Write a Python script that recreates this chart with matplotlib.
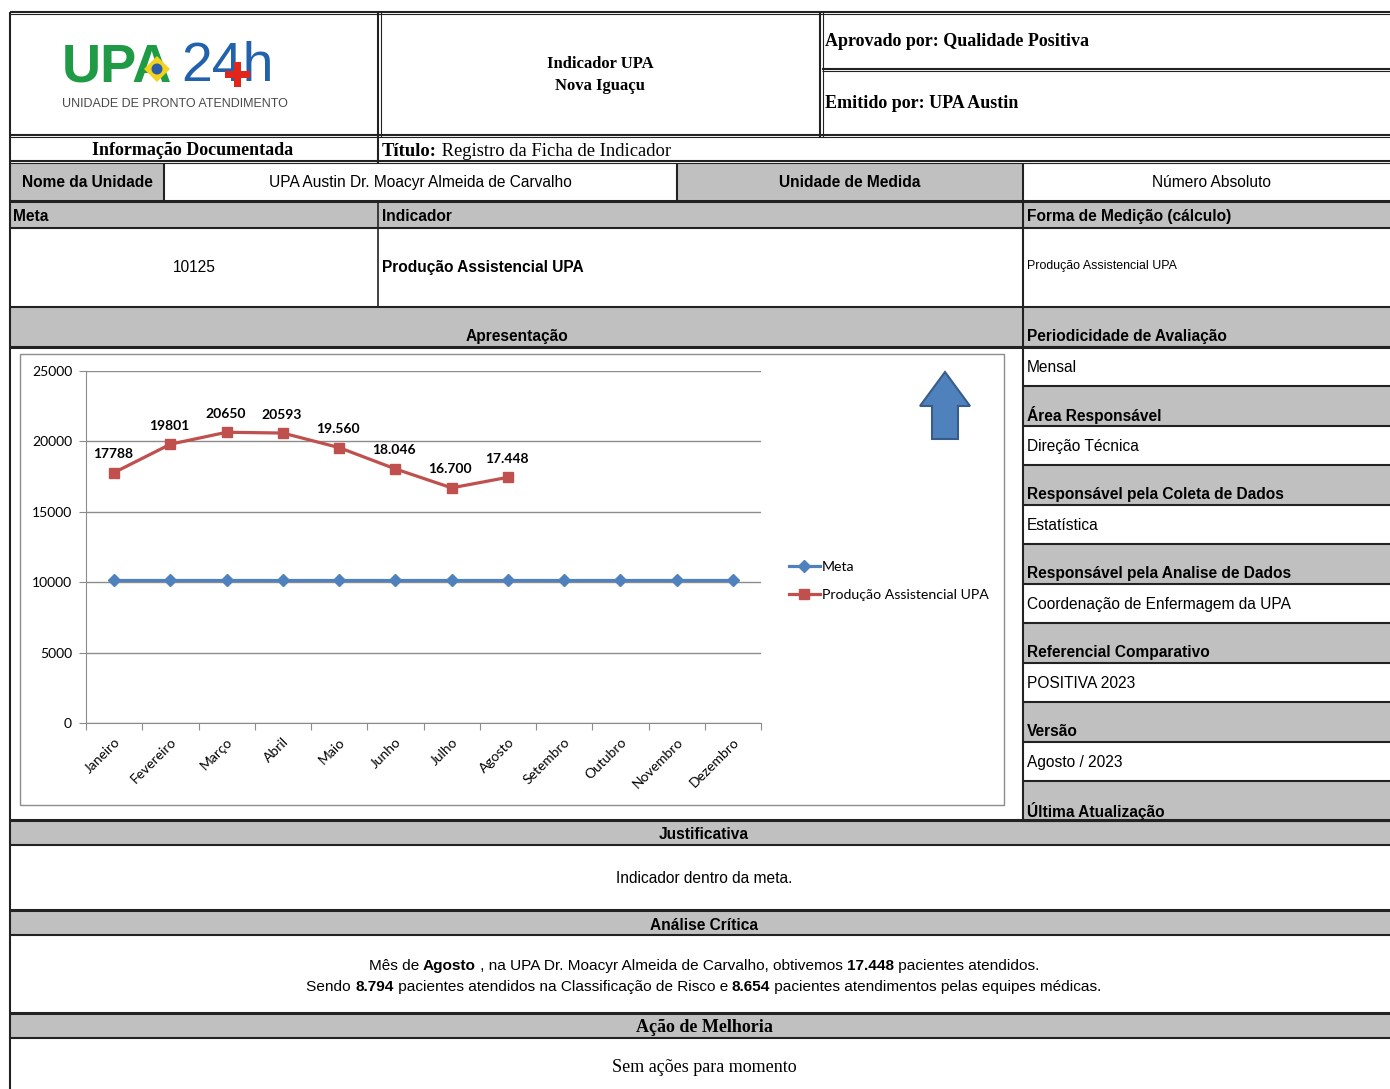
import matplotlib
matplotlib.use('Agg')
import matplotlib.pyplot as plt
from matplotlib.patches import Rectangle, Polygon, Circle

# chart data
meses = ['Janeiro', 'Fevereiro', 'Março', 'Abril', 'Maio', 'Junho',
         'Julho', 'Agosto', 'Setembro', 'Outubro', 'Novembro', 'Dezembro']
meta = [10125, 10125, 10125, 10125, 10125, 10125,
        10125, 10125, 10125, 10125, 10125, 10125]
producao = [17788, 19801, 20650, 20593, 19560, 18046, 16700, 17448]
rotulos = ['17788', '19801', '20650', '20593', '19.560', '18.046', '16.700', '17.448']
yticks = [0, 5000, 10000, 15000, 20000, 25000]

# side column of the form
campos = [('Periodicidade de Avaliação', 'Mensal'),
          ('Área Responsável', 'Direção Técnica'),
          ('Responsável pela Coleta de Dados', 'Estatística'),
          ('Responsável pela Analise de Dados', 'Coordenação de Enfermagem da UPA'),
          ('Referencial Comparativo', 'POSITIVA 2023'),
          ('Versão', 'Agosto / 2023'),
          ('Última Atualização', '')]

SERIF = 'Liberation Serif'
SANS = 'Liberation Sans'
CHART = 'Lato'
GRAY = '#c0c0c0'
BLUE = '#4f81bd'
RED = '#c0504d'
FS = 11.2

W, H = 1390, 1089
fig = plt.figure(figsize=(W/100, H/100), dpi=100)
bg = fig.add_axes([0, 0, 1, 1])
bg.set_xlim(0, W)
bg.set_ylim(H, 0)
bg.axis('off')

def box(x0, y0, x1, y1, color):
    bg.add_patch(Rectangle((x0, y0), x1-x0, y1-y0, facecolor=color, edgecolor='none', zorder=0))

def hline(y, x0=10, x1=W, lw=1.5, c='#222222'):
    bg.plot([x0, x1], [y, y], color=c, lw=lw, solid_capstyle='butt', zorder=2)

def vline(x, y0, y1, lw=1.5, c='#222222'):
    bg.plot([x, x], [y0, y1], color=c, lw=lw, solid_capstyle='butt', zorder=2)

def txt(x, y, s, size=FS, weight='normal', ha='left', family=SANS, **kw):
    return bg.text(x, y + 1.5, s, fontsize=size, fontweight=weight, ha=ha, va='center',
                   family=family, zorder=3, **kw)

renderer = fig.canvas.get_renderer()

def mixed(xc, y, parts, size, family, center=True):
    # parts: list of (text, bold); drawn on a common baseline
    base = y + 1.5 + size * 1.389 * 0.36
    objs = []
    x = 0
    for s, b in parts:
        t = bg.text(x, base, s, fontsize=size, fontweight='bold' if b else 'normal',
                    ha='left', va='baseline', family=family, zorder=3)
        w = t.get_window_extent(renderer).width
        objs.append((t, x))
        x += w
    start = xc - x/2 if center else xc
    for t, off in objs:
        t.set_x(start + off)

# ---- header ----
hline(12); hline(14, lw=0.8)
vline(10, 12, H, lw=1.5)
vline(378, 12, 137); vline(381, 12, 137, lw=0.8)
vline(820, 12, 137); vline(823, 12, 137, lw=0.8)
hline(69, 822, W); hline(71, 822, W, lw=0.8)
hline(135); hline(137, lw=0.8)
vline(378, 137, 163)
hline(161); hline(163, lw=0.8)

# logo
bg.text(62, 68, 'UPA', fontsize=39, fontweight='bold', color='#1f9a45',
        family=SANS, va='center', ha='left', zorder=3)
bg.add_patch(Polygon([[144, 69], [157, 56], [170, 69], [157, 82]],
                     closed=True, facecolor='#f2d21c', edgecolor='none', zorder=4))
bg.add_patch(Circle((157, 69), 5.5, facecolor='#2a5ca8', edgecolor='none', zorder=5))
bg.text(181, 67, '24h', fontsize=40, color='#2262ad', family=SANS,
        va='center', ha='left', zorder=3)
bg.add_patch(Rectangle((225, 71), 25, 7, facecolor='#e1251b', edgecolor='none', zorder=4))
bg.add_patch(Rectangle((234, 62), 7, 25, facecolor='#e1251b', edgecolor='none', zorder=4))
bg.text(175, 104, 'UNIDADE DE PRONTO ATENDIMENTO', fontsize=9, color='#4a4a4a',
        family=SANS, va='center', ha='center', zorder=3)

txt(600, 62, 'Indicador UPA', size=12, weight='bold', ha='center', family=SERIF)
txt(600, 84, 'Nova Iguaçu', size=12, weight='bold', ha='center', family=SERIF)
txt(825, 40, 'Aprovado por: Qualidade Positiva', size=13, weight='bold', family=SERIF)
txt(825, 102, 'Emitido por: UPA Austin', size=13, weight='bold', family=SERIF)

txt(193, 149, 'Informação Documentada', size=13, weight='bold', ha='center', family=SERIF)
mixed(382, 147.5, [('Título:', True), (' Registro da Ficha de Indicador', False)], 13.4, SERIF, center=False)

# ---- unidade row ----
box(10, 163, 164, 201, GRAY)
box(677, 163, 1023, 201, GRAY)
vline(164, 163, 201); vline(677, 163, 201); vline(1023, 163, 201)
txt(87, 181, 'Nome da Unidade', weight='bold', ha='center')
txt(420, 181, 'UPA Austin Dr. Moacyr Almeida de Carvalho', ha='center')
txt(850, 181, 'Unidade de Medida', weight='bold', ha='center')
txt(1211, 181, 'Número Absoluto', ha='center')
hline(201, lw=2.2)

# ---- meta / indicador ----
box(10, 201, W, 228, GRAY)
hline(228)
vline(378, 201, 307, lw=1.2)
vline(1023, 201, 820, lw=1.5)
txt(13, 215, 'Meta', weight='bold')
txt(382, 215, 'Indicador', weight='bold')
txt(1027, 215, 'Forma de Medição (cálculo)', weight='bold')
txt(194, 266, '10125', ha='center')
txt(382, 266, 'Produção Assistencial UPA', weight='bold')
txt(1027, 265, 'Produção Assistencial UPA', size=8.9)
hline(307, lw=1.5)

# ---- apresentacao ----
box(10, 307, W, 347, GRAY)
hline(347, lw=2.2)
txt(517, 335, 'Apresentação', weight='bold', ha='center')

for i, (titulo, valor) in enumerate(campos):
    y0 = 307 + i*79
    if i > 0:
        box(1023, y0, W, y0+40, GRAY)
        hline(y0, 1023, W, lw=1.5)
    hline(y0+40, 1023, W, lw=1.5)
    txt(1027, y0+28, titulo, weight='bold')
    if valor:
        txt(1027, y0+59, valor)

# ---- chart ----
bg.add_patch(Rectangle((20, 354), 984, 451, facecolor='white', edgecolor='#8c8c8c', lw=1, zorder=1))
ax = fig.add_axes([86/W, 1-723/H, (761-86)/W, (723-371)/H])
ax.set_facecolor('white')
x = list(range(len(meses)))
ax.plot(x, meta, color=BLUE, lw=2.3, marker='D', ms=6.5, label='Meta', zorder=3)
ax.plot(x[:len(producao)], producao, color=RED, lw=2.3, marker='s', ms=7.5,
        label='Produção Assistencial UPA', zorder=4)
for xi, v, s in zip(x, producao, rotulos):
    ax.annotate(s, (xi, v), xytext=(-1, 9), textcoords='offset points', ha='center',
                va='bottom', fontsize=10, fontweight='bold', family=CHART)
ax.set_xlim(-0.5, len(meses)-0.5)
ax.set_ylim(0, 25000)
ax.set_yticks(yticks)
ax.set_yticklabels([str(t) for t in yticks], family=CHART, fontsize=10)
ax.set_xticks([i-0.5 for i in range(len(meses)+1)])
ax.set_xticklabels([])
ax.set_xticks(x, minor=True)
ax.set_xticklabels(meses, minor=True, rotation=45, ha='right', rotation_mode='anchor',
                   family=CHART, fontsize=10)
ax.tick_params(axis='x', which='minor', length=0, pad=9)
ax.tick_params(axis='x', which='major', length=5, color='#8c8c8c')
ax.tick_params(axis='y', length=5, color='#8c8c8c', pad=5)
ax.grid(axis='y', color='#8c8c8c', lw=1)
ax.set_axisbelow(True)
for s in ['top', 'right']:
    ax.spines[s].set_visible(False)
for s in ['left', 'bottom']:
    ax.spines[s].set_color('#8c8c8c')
ax.legend(loc='center left', bbox_to_anchor=(776/W, 1-581/H), bbox_transform=fig.transFigure,
          frameon=False, prop={'family': CHART, 'size': 10.2}, handlelength=2.2,
          handletextpad=0.15, labelspacing=1.15)

# up arrow
bg.add_patch(Polygon([[932, 439], [932, 406], [920, 406], [945, 372], [970, 406],
                      [958, 406], [958, 439]], closed=True, facecolor=BLUE,
                     edgecolor='#385d8a', lw=1.5, zorder=3))

# ---- bottom sections ----
hline(820, lw=2.2)
box(10, 821, W, 845, GRAY)
hline(845)
txt(704, 833, 'Justificativa', weight='bold', ha='center')
txt(704, 877, 'Indicador dentro da meta.', ha='center')
hline(910, lw=2.2)
box(10, 911, W, 935, GRAY)
hline(935)
txt(704, 924, 'Análise Crítica', weight='bold', ha='center')
mixed(704, 963, [('Mês de ', False), ('Agosto', True),
                 (' , na UPA Dr. Moacyr Almeida de Carvalho, obtivemos ', False),
                 ('17.448', True), (' pacientes atendidos.', False)], 11.1, SANS)
mixed(704, 984, [('Sendo ', False), ('8.794', True),
                 (' pacientes atendidos na Classificação de Risco e ', False),
                 ('8.654', True), (' pacientes atendimentos pelas equipes médicas.', False)],
      11.1, SANS)
hline(1013, lw=2.2)
box(10, 1014, W, 1038, GRAY)
hline(1038)
txt(704, 1026, 'Ação de Melhoria', size=13, weight='bold', ha='center', family=SERIF)
txt(704, 1066, 'Sem ações para momento', size=13, ha='center', family=SERIF)

fig.savefig('out.png', dpi=100)
